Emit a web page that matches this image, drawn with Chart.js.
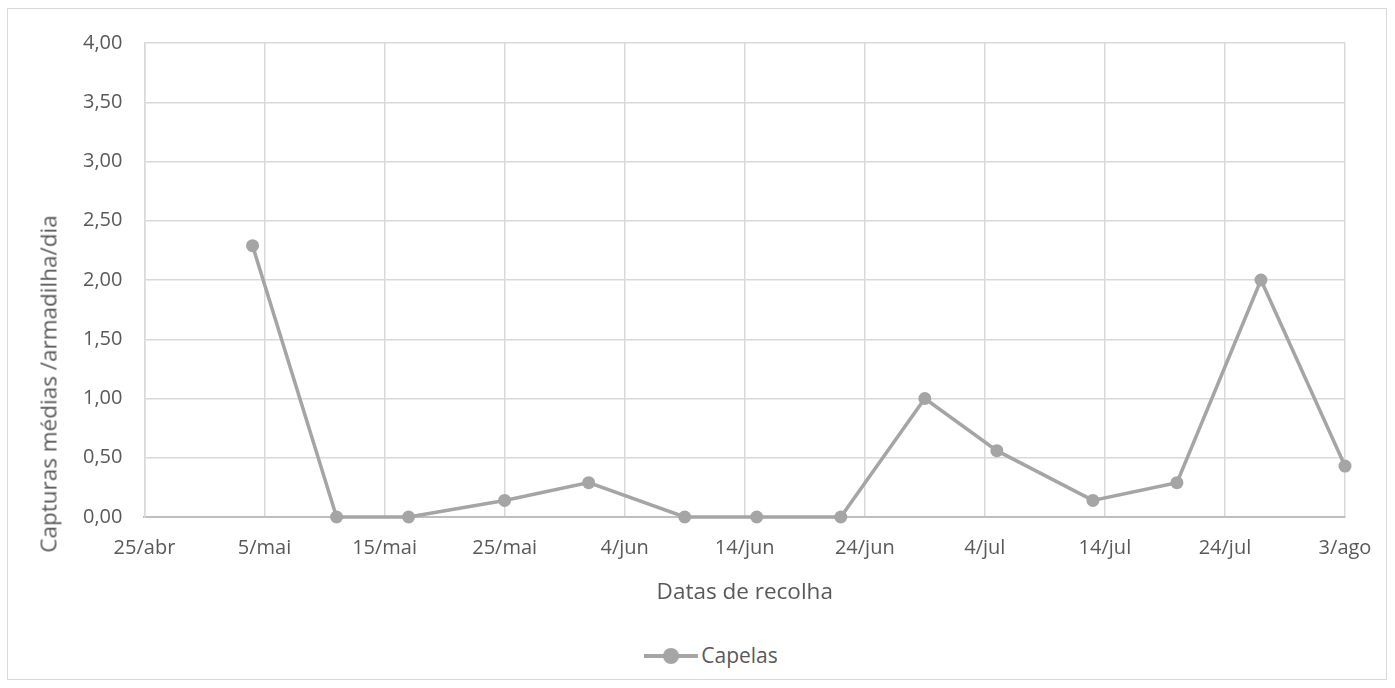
<!DOCTYPE html>
<html>
<head>
<meta charset="utf-8">
<script src="https://cdn.jsdelivr.net/npm/chart.js@4.4.0/dist/chart.umd.min.js"></script>
<style>
    body { margin: 0; background: #fff; font-family: 'Open Sans', sans-serif; }
    #frame {
        position: absolute; left: 7px; top: 8px;
        width: 1380px; height: 672px;
        border: 1px solid #d9d9d9; box-sizing: border-box;
    }
    #wrap { position: absolute; left: 0; top: 0; width: 1378px; height: 597px; }
    #yTitle {
        position: absolute; left: 40px; top: 375px;
        transform: translate(-50%, -50%) rotate(-90deg);
        white-space: nowrap; color: #595959; font-size: 22.5px;
    }
    #legend {
        position: absolute; left: 0; right: 0; top: 632px;
        text-align: center; color: #595959; font-size: 21px;
        padding-left: 28px;
    }
    .swatch {
        display: inline-block; position: relative;
        width: 54px; height: 4px; background: #a5a5a5;
        vertical-align: middle; margin-right: 3px; margin-top: -3px;
    }
    .swatch::after {
        content: ''; position: absolute; left: 19px; top: -6px;
        width: 16px; height: 16px; border-radius: 50%; background: #a5a5a5;
    }
</style>
</head>
<body>
<div id="frame">
    <div id="wrap"><canvas id="capturasChart"></canvas></div>
    <div id="yTitle">Capturas médias /armadilha/dia</div>
    <div id="legend"><span class="swatch"></span>Capelas</div>
</div>
<script>
// Datas de recolha e capturas médias (Capelas)
const collectDates = ['05-04', '05-11', '05-17', '05-25', '06-01', '06-09', '06-15',
    '06-22', '06-29', '07-05', '07-13', '07-20', '07-27', '08-03'];
const capelasValues = [2.29, 0, 0, 0.14, 0.29, 0, 0, 0, 1.00, 0.56, 0.14, 0.29, 2.00, 0.43];

// Eixo x: marcas de 10 em 10 dias a partir de 25/abr
const xTickLabels = ['25/abr', '5/mai', '15/mai', '25/mai', '4/jun', '14/jun',
    '24/jun', '4/jul', '14/jul', '24/jul', '3/ago'];
const startDate = '04-25';

function dayOffset(md) {
    const d = new Date('2021-' + md + 'T00:00:00Z');
    const s = new Date('2021-' + startDate + 'T00:00:00Z');
    return Math.round((d - s) / 86400000);
}

const points = collectDates.map((md, i) => ({ x: dayOffset(md), y: capelasValues[i] }));

const textColor = '#595959';
const gridColor = '#d9d9d9';
const lineColor = '#a5a5a5';
const tickFont = { family: "'Open Sans', sans-serif", size: 20 };
const titleFont = { family: "'Open Sans', sans-serif", size: 22.5 };

new Chart(document.getElementById('capturasChart').getContext('2d'), {
    type: 'line',
    data: {
        datasets: [{
            label: 'Capelas',
            data: points,
            borderColor: lineColor,
            backgroundColor: lineColor,
            borderWidth: 3.5,
            pointRadius: 6.5,
            pointBorderWidth: 0,
            tension: 0,
            clip: false
        }]
    },
    options: {
        responsive: true,
        maintainAspectRatio: false,
        animation: false,
        layout: { padding: { left: 53, right: 41, top: 27, bottom: 0 } },
        plugins: {
            legend: { display: false },
            tooltip: { enabled: false }
        },
        scales: {
            x: {
                type: 'linear',
                min: 0,
                max: 100,
                // let the last label overflow to the right, like the original
                afterFit: function(scale) { scale.paddingRight = 0; },
                grid: { color: gridColor, lineWidth: 1.5, drawTicks: false },
                border: { color: '#bfbfbf', width: 2 },
                ticks: {
                    stepSize: 10,
                    color: textColor,
                    font: tickFont,
                    padding: 19,
                    maxRotation: 0,
                    callback: function(value) {
                        return xTickLabels[Math.round(value / 10)];
                    }
                },
                title: {
                    display: true,
                    text: 'Datas de recolha',
                    color: textColor,
                    font: titleFont,
                    padding: { top: 0, bottom: 0 }
                }
            },
            y: {
                min: 0,
                max: 4,
                grid: { color: gridColor, lineWidth: 1.5, drawTicks: false },
                border: { color: gridColor, width: 1.5 },
                ticks: {
                    stepSize: 0.5,
                    color: textColor,
                    font: tickFont,
                    padding: 22,
                    callback: function(value) {
                        return value.toFixed(2).replace('.', ',');
                    }
                }
            }
        }
    }
});
</script>
</body>
</html>
